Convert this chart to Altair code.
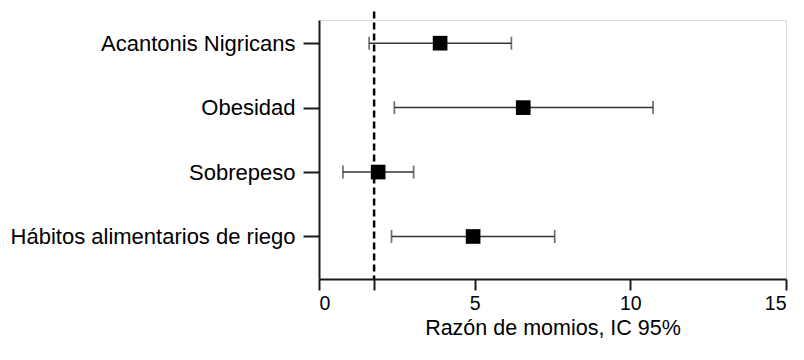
import json
import altair as alt
import pandas as pd

# ---- data ----
categories = ["Acantonis Nigricans", "Obesidad", "Sobrepeso", "Hábitos alimentarios de riego"]
odds_ratio = [3.89, 6.56, 1.90, 4.95]
ci_low = [1.61, 2.42, 0.77, 2.33]
ci_high = [6.18, 10.73, 3.04, 7.57]
reference_value = 1.77
x_ticks = [0, 1.77, 5, 10, 15]

n = len(categories)
df = pd.DataFrame({
    "cat": categories,
    "pos": [n - i for i in range(n)],
    "or": odds_ratio,
    "lo": ci_low,
    "hi": ci_high,
})
ref_df = pd.DataFrame({"ref": [reference_value]})

FONT = "Liberation Sans"
INK = "#1a1a1a"

labels_bottom_up = list(reversed(categories))
label_expr = json.dumps(labels_bottom_up, ensure_ascii=False) + "[datum.value - 1]"

y_scale = alt.Scale(domain=[0.34, 4.36], nice=False, zero=False)
y_axis = alt.Axis(
    values=list(range(1, n + 1)), labelExpr=label_expr, title=None, grid=False,
    tickSize=16, tickWidth=2, tickColor=INK, domainWidth=2, domainColor=INK,
    labelFontSize=22, labelFont=FONT, labelColor="black", labelPadding=8,
    labelLimit=500,
)
x_scale = alt.Scale(domain=[0, 15], nice=False)
x_axis = alt.Axis(
    values=x_ticks, labelExpr="datum.value % 5 == 0 ? datum.label : ''",
    title="Razón de momios, IC 95%", grid=False,
    tickSize=11, tickWidth=2, tickColor=INK, domainWidth=2, domainColor=INK,
    labelFontSize=19.5, labelFont=FONT, labelColor="black", labelPadding=4,
    titleFontSize=21.5, titleFont=FONT, titleFontWeight="normal", titleColor="black",
    titlePadding=5,
)

base = alt.Chart(df)
Y = alt.Y("pos:Q", scale=y_scale, axis=y_axis)

whisker = base.mark_rule(color="#333", strokeWidth=1.5).encode(
    x=alt.X("lo:Q", scale=x_scale, axis=x_axis), x2="hi:Q", y=Y)
cap_lo = base.mark_tick(color="#333", orient="vertical", size=13, thickness=1.7).encode(
    x=alt.X("lo:Q", scale=x_scale, axis=x_axis), y=Y)
cap_hi = base.mark_tick(color="#333", orient="vertical", size=13, thickness=1.7).encode(
    x=alt.X("hi:Q", scale=x_scale, axis=x_axis), y=Y)
points = base.mark_square(color="black", size=215, opacity=1).encode(
    x=alt.X("or:Q", scale=x_scale, axis=x_axis), y=Y)

ref_line = alt.Chart(ref_df).mark_rule(color="black", strokeWidth=2.5, strokeDash=[7, 4]).encode(
    x=alt.X("ref:Q", scale=x_scale, axis=x_axis),
    y=alt.YDatum(4.49, scale=y_scale, axis=y_axis),
    y2=alt.Y2Datum(0.34),
)

chart = alt.layer(ref_line, whisker, cap_lo, cap_hi, points).properties(
    width=467, height=259,
    autosize="none",
    padding={"left": 311, "top": 12, "right": 10, "bottom": 65},
).configure_view(stroke=None).configure(background="white")

chart.save("out.html", embed_options={"renderer": "svg", "actions": False})
